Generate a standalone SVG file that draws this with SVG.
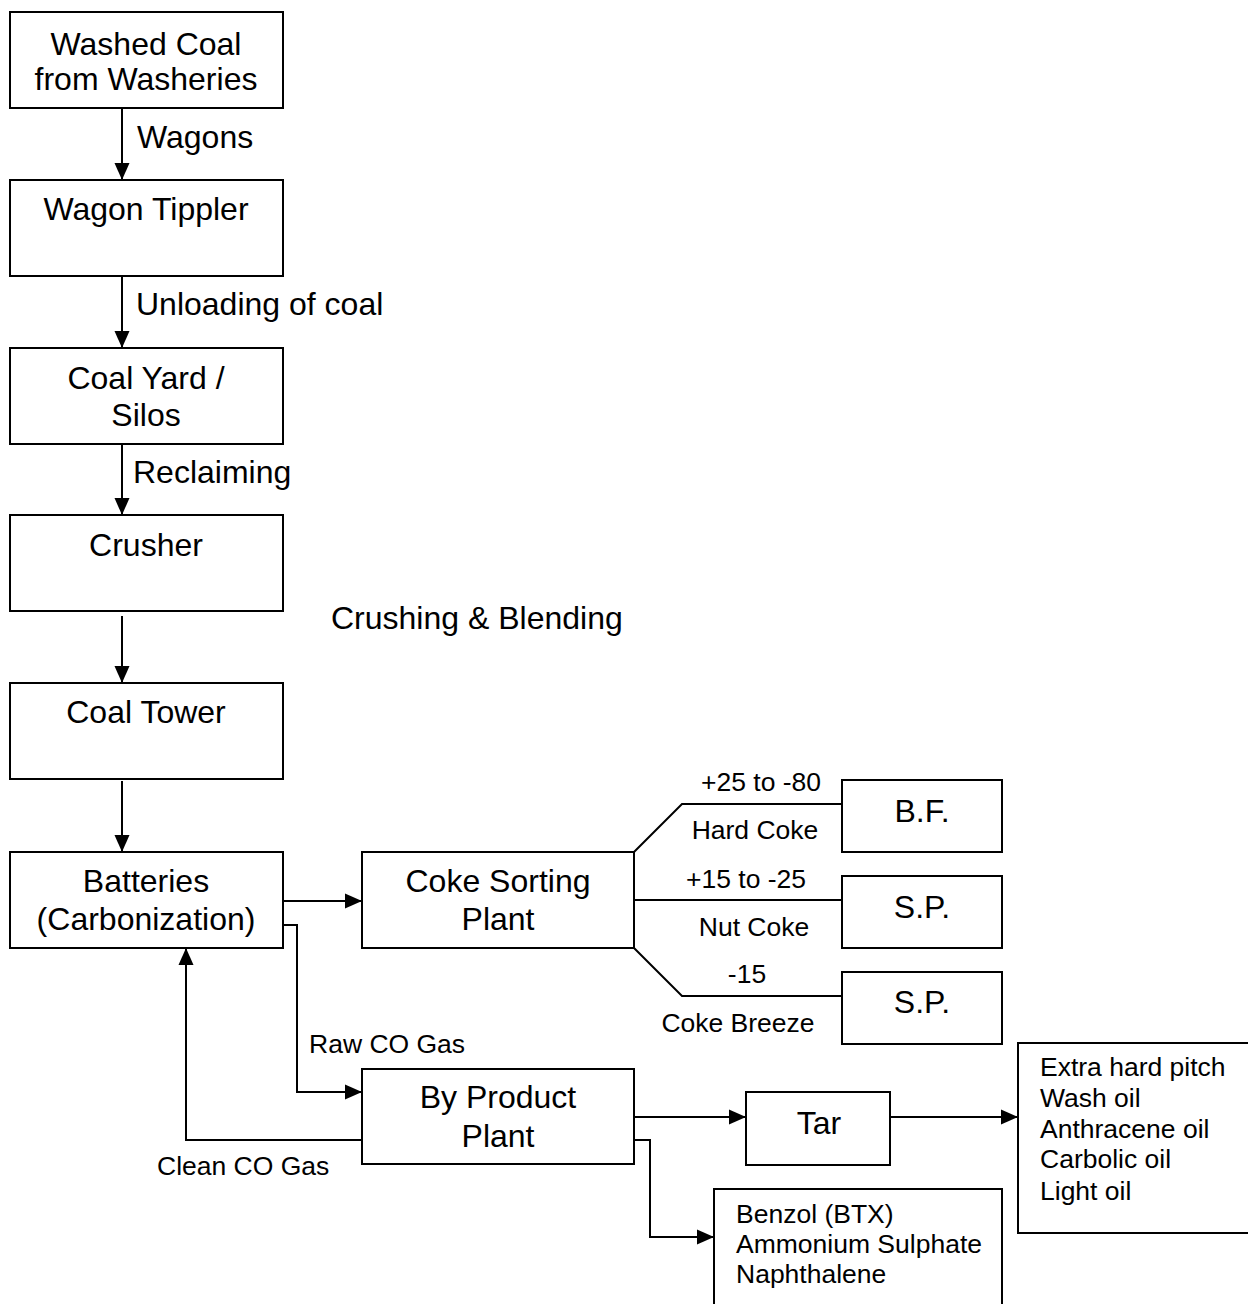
<svg xmlns="http://www.w3.org/2000/svg" width="1248" height="1304" viewBox="0 0 1248 1304">
  <style>
    .box { fill: #fff; stroke: #000; stroke-width: 2; }
    .wire { fill: none; stroke: #000; stroke-width: 2; }
    .big { font-family: "Liberation Sans", Arial, sans-serif; font-size: 32px; fill: #000; }
    .small { font-family: "Liberation Sans", Arial, sans-serif; font-size: 26.5px; fill: #000; }
    .mid { text-anchor: middle; }
  </style>
  <defs>
    <marker id="arrow" markerUnits="userSpaceOnUse" markerWidth="17" markerHeight="16" viewBox="0 0 17 16" refX="17" refY="8" orient="auto">
      <path d="M0,0.5 L17,8 L0,15.5 Z" fill="#000"/>
    </marker>
  </defs>

  <rect width="1248" height="1304" fill="#fff"/>

  <!-- connectors -->
  <g id="connectors">
    <line class="wire" x1="122" y1="108" x2="122" y2="180" marker-end="url(#arrow)"/>
    <line class="wire" x1="122" y1="276" x2="122" y2="348" marker-end="url(#arrow)"/>
    <line class="wire" x1="122" y1="444" x2="122" y2="515" marker-end="url(#arrow)"/>
    <line class="wire" x1="122" y1="616" x2="122" y2="683" marker-end="url(#arrow)"/>
    <line class="wire" x1="122" y1="781" x2="122" y2="852" marker-end="url(#arrow)"/>
    <line class="wire" x1="283" y1="901" x2="362" y2="901" marker-end="url(#arrow)"/>
    <polyline class="wire" points="283,925 297,925 297,1092 362,1092" marker-end="url(#arrow)"/>
    <polyline class="wire" points="362,1140 186,1140 186,948" marker-end="url(#arrow)"/>
    <polyline class="wire" points="634,852 682,804 842,804"/>
    <line class="wire" x1="634" y1="900" x2="842" y2="900"/>
    <polyline class="wire" points="634,948 682,996 842,996"/>
    <line class="wire" x1="634" y1="1117" x2="746" y2="1117" marker-end="url(#arrow)"/>
    <line class="wire" x1="890" y1="1117" x2="1018" y2="1117" marker-end="url(#arrow)"/>
    <polyline class="wire" points="634,1140 650,1140 650,1237 714,1237" marker-end="url(#arrow)"/>

    <text class="big" x="137" y="148">Wagons</text>
    <text class="big" x="136" y="315">Unloading of coal</text>
    <text class="big" x="133" y="483">Reclaiming</text>
    <text class="big" x="331" y="629">Crushing &amp; Blending</text>
    <text class="small" x="309" y="1053">Raw CO Gas</text>
    <text class="small" x="157" y="1175">Clean CO Gas</text>
    <text class="small mid" x="761" y="791">+25 to -80</text>
    <text class="small mid" x="755" y="839">Hard Coke</text>
    <text class="small mid" x="746" y="888">+15 to -25</text>
    <text class="small mid" x="754" y="936">Nut Coke</text>
    <text class="small mid" x="747" y="983">-15</text>
    <text class="small mid" x="738" y="1032">Coke Breeze</text>
  </g>

  <!-- nodes -->
  <g id="washed-coal">
    <rect class="box" x="10" y="12" width="273" height="96"/>
    <text class="big mid" x="146" y="55">Washed Coal</text>
    <text class="big mid" x="146" y="90">from Washeries</text>
  </g>
  <g id="wagon-tippler">
    <rect class="box" x="10" y="180" width="273" height="96"/>
    <text class="big mid" x="146" y="220">Wagon Tippler</text>
  </g>
  <g id="coal-yard">
    <rect class="box" x="10" y="348" width="273" height="96"/>
    <text class="big mid" x="146" y="389">Coal Yard /</text>
    <text class="big mid" x="146" y="426">Silos</text>
  </g>
  <g id="crusher">
    <rect class="box" x="10" y="515" width="273" height="96"/>
    <text class="big mid" x="146" y="556">Crusher</text>
  </g>
  <g id="coal-tower">
    <rect class="box" x="10" y="683" width="273" height="96"/>
    <text class="big mid" x="146" y="723">Coal Tower</text>
  </g>
  <g id="batteries">
    <rect class="box" x="10" y="852" width="273" height="96"/>
    <text class="big mid" x="146" y="892">Batteries</text>
    <text class="big mid" x="146" y="930">(Carbonization)</text>
  </g>
  <g id="coke-sorting">
    <rect class="box" x="362" y="852" width="272" height="96"/>
    <text class="big mid" x="498" y="892">Coke Sorting</text>
    <text class="big mid" x="498" y="930">Plant</text>
  </g>
  <g id="blast-furnace">
    <rect class="box" x="842" y="780" width="160" height="72"/>
    <text class="big mid" x="922" y="822">B.F.</text>
  </g>
  <g id="sp-nut">
    <rect class="box" x="842" y="876" width="160" height="72"/>
    <text class="big mid" x="922" y="918">S.P.</text>
  </g>
  <g id="sp-breeze">
    <rect class="box" x="842" y="972" width="160" height="72"/>
    <text class="big mid" x="922" y="1013">S.P.</text>
  </g>
  <g id="by-product">
    <rect class="box" x="362" y="1069" width="272" height="95"/>
    <text class="big mid" x="498" y="1108">By Product</text>
    <text class="big mid" x="498" y="1147">Plant</text>
  </g>
  <g id="tar">
    <rect class="box" x="746" y="1092" width="144" height="73"/>
    <text class="big mid" x="819" y="1134">Tar</text>
  </g>
  <g id="tar-products">
    <rect class="box" x="1018" y="1043" width="250" height="190"/>
    <text class="small" x="1040" y="1076">Extra hard pitch</text>
    <text class="small" x="1040" y="1107">Wash oil</text>
    <text class="small" x="1040" y="1138">Anthracene oil</text>
    <text class="small" x="1040" y="1168">Carbolic oil</text>
    <text class="small" x="1040" y="1200">Light oil</text>
  </g>
  <g id="gas-products">
    <rect class="box" x="714" y="1189" width="288" height="130"/>
    <text class="small" x="736" y="1223">Benzol (BTX)</text>
    <text class="small" x="736" y="1253">Ammonium Sulphate</text>
    <text class="small" x="736" y="1283">Naphthalene</text>
  </g>
</svg>
